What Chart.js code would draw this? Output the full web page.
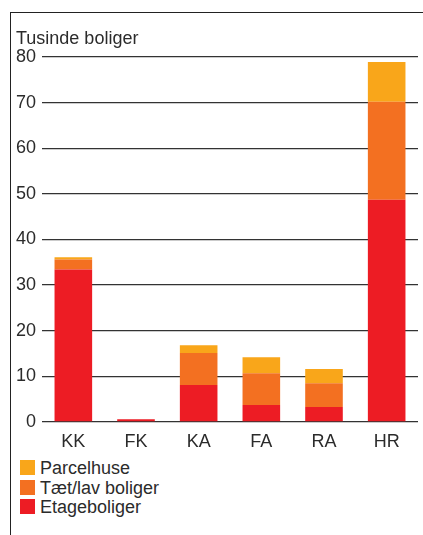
<!DOCTYPE html>
<html>
<head>
<meta charset="utf-8">
<script src="https://cdn.jsdelivr.net/npm/chart.js@4"></script>
<style>
  body { margin: 0; background: #fff; font-family: "Liberation Sans", Arial, sans-serif; color: #2b2b2b; }
  #wrap { position: relative; width: 423px; height: 535px; overflow: hidden; }
  #frame { position: absolute; left: 10px; top: 12px; width: 430px; height: 540px; border-top: 1px solid #222; border-left: 1px solid #222; }
  #title { position: absolute; left: 16px; top: 28px; font-size: 18px; line-height: 20px; }
  #chartBox { position: absolute; left: 0; top: 0; width: 423px; height: 452px; }
  #legend { position: absolute; left: 20px; top: 460px; }
  .item { height: 19.5px; position: relative; font-size: 18px; line-height: 15px; }
  .sw { position: absolute; left: 0; top: 0; width: 15px; height: 15px; }
  .lbl { position: absolute; left: 20px; top: 1px; white-space: nowrap; }
</style>
</head>
<body>
<div id="wrap">
  <div id="frame"></div>
  <div id="chartBox"><canvas id="myChart"></canvas></div>
  <div id="title">Tusinde boliger</div>
  <div id="legend"></div>
</div>
<script>
let categories = ["KK", "FK", "KA", "FA", "RA", "HR"],
  etageboliger = [33.4, 0.6, 8.1, 3.7, 3.3, 48.7],
  taetLav = [2.2, 0, 7.0, 7.0, 5.2, 21.5],
  parcelhuse = [0.5, 0, 1.7, 3.5, 3.1, 8.7],
  yTicks = [0, 10, 20, 30, 40, 50, 60, 70, 80],
  seriesNames = ["Etageboliger", "Tæt/lav boliger", "Parcelhuse"],
  colors = ["#ed1c24", "#f37021", "#f9a61a"];

var ctx = document.getElementById("myChart").getContext("2d");
var myChart = new Chart(ctx, {
  type: "bar",
  data: {
    labels: categories,
    datasets: [etageboliger, taetLav, parcelhuse].map((d, i) => ({
      label: seriesNames[i],
      data: d,
      backgroundColor: colors[i],
      borderWidth: 0,
      categoryPercentage: 1,
      barPercentage: 0.6,
    })),
  },
  options: {
    responsive: true,
    maintainAspectRatio: false,
    animation: false,
    layout: { padding: { left: 0, right: 5, top: 57, bottom: 0 } },
    plugins: { legend: { display: false }, tooltip: { enabled: false } },
    scales: {
      x: {
        stacked: true,
        grid: { display: false },
        border: { display: false },
        ticks: { color: "#2b2b2b", font: { family: "Liberation Sans", size: 18 }, padding: 1 },
        afterFit: (s) => { s.height = 30; },
      },
      y: {
        stacked: true,
        min: 0,
        max: 80,
        afterBuildTicks: (s) => { s.ticks = yTicks.map((v) => ({ value: v })); },
        grid: { color: "#333", lineWidth: 1.3, drawTicks: false },
        border: { display: false },
        ticks: { color: "#2b2b2b", font: { family: "Liberation Sans", size: 18 }, padding: 6 },
        afterFit: (s) => { s.width = 42; },
      },
    },
  },
});

// legend, top entry first
let legend = document.getElementById("legend");
[2, 1, 0].forEach((i) => {
  let item = document.createElement("div");
  item.className = "item";
  item.innerHTML = `<span class="sw" style="background:${colors[i]}"></span><span class="lbl">${seriesNames[i]}</span>`;
  legend.appendChild(item);
});
</script>
</body>
</html>
